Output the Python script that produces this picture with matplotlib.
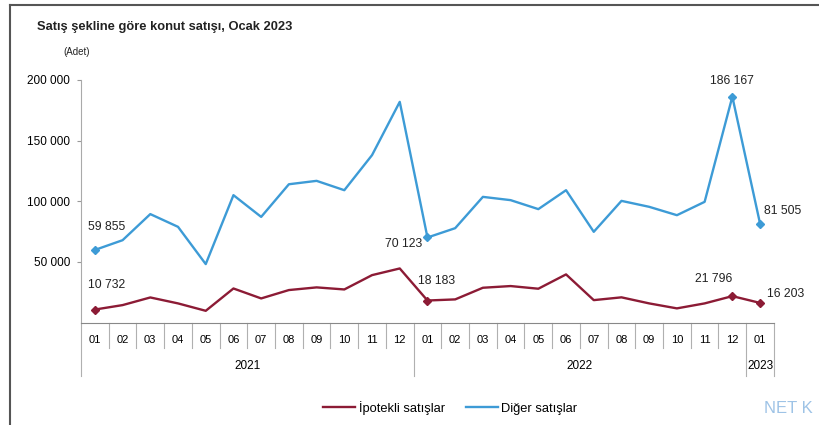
import matplotlib
matplotlib.use("Agg")
import matplotlib.pyplot as plt
import matplotlib.transforms as mtransforms
from matplotlib.lines import Line2D

plt.rcParams['font.family'] = ['Liberation Sans', 'DejaVu Sans']

months = ['01', '02', '03', '04', '05', '06', '07', '08', '09', '10', '11', '12',
          '01', '02', '03', '04', '05', '06', '07', '08', '09', '10', '11', '12',
          '01']
years = ['2021', '2022', '2023']

ipotekli = [10732, 14400, 20700, 15800, 9700, 28100, 19900, 26800, 29000, 27300,
            39100, 44600, 18183, 19100, 28700, 30100, 27900, 39700, 18500, 20800,
            15800, 11700, 15800, 21796, 16203]
diger = [59855, 67900, 89400, 78900, 48200, 105000, 87100, 114000, 116800, 109100,
         138000, 181900, 70123, 77800, 103600, 100900, 93500, 109100, 74800, 100300,
         95400, 88500, 99500, 186167, 81505]

# points that get a value label: (index, dx, dy, ha, va) offsets in points
red_labels = [(0, -5, 13, 'left', 'bottom'), (12, -7, 10, 'left', 'bottom'),
              (23, 0, 8, 'right', 'bottom'), (24, 5, 2, 'left', 'bottom')]
blue_labels = [(0, -5, 12, 'left', 'bottom'), (12, -4, -5, 'right', 'center'),
               (23, 0, 7, 'center', 'bottom'), (24, 3, 5, 'left', 'bottom')]

red = '#8c1b35'
blue = '#3d9bd6'

fig = plt.figure(figsize=(8.2, 4.25), dpi=100)
ax = fig.add_axes([0.0988, 0.241, 0.845, 0.571])

x = list(range(len(months)))
ax.plot(x, ipotekli, color=red, lw=1.7, zorder=3)
ax.plot(x, diger, color=blue, lw=1.7, zorder=3)

def fmt(v):
    return f'{v:,}'.replace(',', ' ')

for series, labels, col in [(ipotekli, red_labels, red), (diger, blue_labels, blue)]:
    for i, dx, dy, ha, va in labels:
        ax.plot(i, series[i], marker='D', ms=4, color=col, zorder=4)
        ax.annotate(fmt(series[i]), (i, series[i]), xytext=(dx, dy),
                    textcoords='offset points', ha=ha, va=va,
                    fontsize=8.8, color='#222222')

ax.set_xlim(-0.5, len(months) - 0.5)
ax.set_ylim(0, 200000)
ax.set_yticks([50000, 100000, 150000, 200000])
ax.set_yticklabels([fmt(v) for v in [50000, 100000, 150000, 200000]])
ax.tick_params(axis='y', labelsize=8.5, length=3, color='#999999', pad=5)
ax.set_xticks(x)
ax.set_xticklabels(months)
ax.tick_params(axis='x', labelsize=8, length=0, pad=9)

for s in ['top', 'right']:
    ax.spines[s].set_visible(False)
ax.spines['left'].set_color('#aaaaaa')
ax.spines['bottom'].set_color('#888888')

# category separators below the axis, longer ones at year boundaries
trans = mtransforms.blended_transform_factory(ax.transData, ax.transAxes)
for b in range(len(months) + 1):
    xb = b - 0.5
    long = b in (0, 12, 24, 25)
    ax.plot([xb, xb], [0, -0.22 if long else -0.105], transform=trans,
            color='#b0b0b0', lw=0.8, clip_on=False)

ax.text(5.5, -0.177, years[0], transform=trans, ha='center', va='center', fontsize=8.5)
ax.text(17.5, -0.177, years[1], transform=trans, ha='center', va='center', fontsize=8.5)
ax.text(24, -0.177, years[2], transform=trans, ha='center', va='center', fontsize=8.5)

fig.text(0.045, 0.936, 'Satış şekline göre konut satışı, Ocak 2023', fontsize=9.3,
         fontweight='bold', ha='left', va='center', color='#222222')
fig.text(0.077, 0.878, '(Adet)', fontsize=7, ha='left', va='center', color='#222222')

handles = [Line2D([], [], color=red, lw=1.7), Line2D([], [], color=blue, lw=1.7)]
fig.legend(handles, ['İpotekli satışlar', 'Diğer satışlar'], loc='center',
           bbox_to_anchor=(0.549, 0.04), ncol=2, frameon=False, fontsize=9.3,
           handlelength=2.5, handletextpad=0.25, columnspacing=1.6)

fig.text(0.932, 0.038, 'NET K', fontsize=12, color='#9ec3e6', ha='left', va='center')

# outer frame on the top and left edges
fig.add_artist(Line2D([0.012, 1.0], [0.988, 0.988], transform=fig.transFigure,
                      color='#555555', lw=1.5))
fig.add_artist(Line2D([0.012, 0.012], [0.0, 0.988], transform=fig.transFigure,
                      color='#555555', lw=1.5))

fig.savefig('out.png', dpi=100)
